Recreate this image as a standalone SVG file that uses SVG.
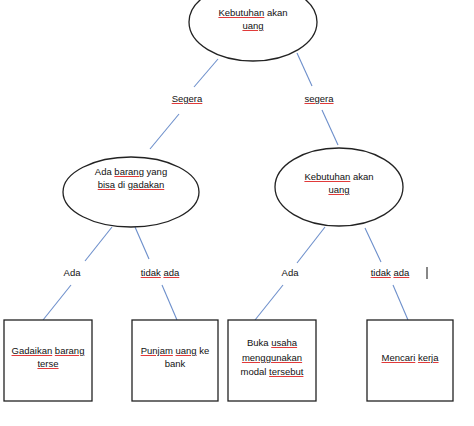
<svg xmlns="http://www.w3.org/2000/svg" width="474" height="426" viewBox="0 0 474 426">
<style>
.node ellipse,.node rect{fill:#fff;stroke:#222;stroke-width:1.3}
text{font-family:"Liberation Sans",Arial,sans-serif;font-size:9.5px;fill:#111;text-anchor:middle}
.sp{text-decoration:underline;fill:#e03030}
.sp tspan{fill:#111}
#connectors line{stroke:#6d8fcb;stroke-width:1.1}
</style>
<rect width="474" height="426" fill="#fff"/>
<g id="connectors">
<line x1="218" y1="59" x2="194" y2="87"/>
<line x1="179" y1="114" x2="150" y2="149"/>
<line x1="297" y1="53" x2="312" y2="86"/>
<line x1="322" y1="110" x2="338" y2="145"/>
<line x1="112" y1="227" x2="85" y2="261"/>
<line x1="71" y1="285" x2="43" y2="320"/>
<line x1="135" y1="227" x2="149" y2="259"/>
<line x1="162" y1="285" x2="177" y2="320"/>
<line x1="325" y1="227" x2="297" y2="263"/>
<line x1="283" y1="285" x2="255" y2="320"/>
<line x1="365" y1="228" x2="381" y2="262"/>
<line x1="393" y1="285" x2="408" y2="320"/>
</g>
<g id="labels">
<text x="187" y="102"><tspan class="sp"><tspan>Segera</tspan></tspan></text>
<text x="319" y="102"><tspan class="sp"><tspan>segera</tspan></tspan></text>
<text x="72" y="276">Ada</text>
<text x="160" y="276"><tspan class="sp"><tspan>tidak</tspan></tspan> <tspan class="sp"><tspan>ada</tspan></tspan></text>
<text x="290" y="276">Ada</text>
<text x="390" y="276"><tspan class="sp"><tspan>tidak</tspan></tspan> <tspan class="sp"><tspan>ada</tspan></tspan></text>
<line x1="427" y1="267" x2="427" y2="279" stroke="#111" stroke-width="1"/>
</g>
<g id="root" class="node">
<ellipse cx="253" cy="22" rx="64" ry="39"/>
<text x="253" y="16"><tspan class="sp"><tspan>Kebutuhan</tspan></tspan> akan</text>
<text x="253" y="29"><tspan class="sp"><tspan>uang</tspan></tspan></text>
</g>
<g id="barang" class="node">
<ellipse cx="131" cy="192" rx="68" ry="35"/>
<text x="131" y="175">Ada <tspan class="sp"><tspan>barang</tspan></tspan> yang</text>
<text x="131" y="188"><tspan class="sp"><tspan>bisa</tspan></tspan> di <tspan class="sp"><tspan>gadakan</tspan></tspan></text>
</g>
<g id="kebutuhan" class="node">
<ellipse cx="339" cy="187" rx="64" ry="39"/>
<text x="339" y="180"><tspan class="sp"><tspan>Kebutuhan</tspan></tspan> akan</text>
<text x="339" y="193"><tspan class="sp"><tspan>uang</tspan></tspan></text>
</g>
<g id="gadaikan" class="node">
<rect x="4" y="320" width="88" height="81"/>
<text x="48" y="354"><tspan class="sp"><tspan>Gadaikan</tspan></tspan> <tspan class="sp"><tspan>barang</tspan></tspan></text>
<text x="48" y="367"><tspan class="sp"><tspan>terse</tspan></tspan></text>
</g>
<g id="punjam" class="node">
<rect x="132" y="320" width="86" height="81"/>
<text x="175" y="354"><tspan class="sp"><tspan>Punjam</tspan></tspan> <tspan class="sp"><tspan>uang</tspan></tspan> ke</text>
<text x="175" y="367">bank</text>
</g>
<g id="usaha" class="node">
<rect x="228" y="320" width="88" height="81"/>
<text x="272" y="346">Buka <tspan class="sp"><tspan>usaha</tspan></tspan></text>
<text x="272" y="361"><tspan class="sp"><tspan>menggunakan</tspan></tspan></text>
<text x="272" y="375">modal <tspan class="sp"><tspan>tersebut</tspan></tspan></text>
</g>
<g id="kerja" class="node">
<rect x="367" y="320" width="86" height="81"/>
<text x="410" y="361"><tspan class="sp"><tspan>Mencari</tspan></tspan> <tspan class="sp"><tspan>kerja</tspan></tspan></text>
</g>
</svg>
